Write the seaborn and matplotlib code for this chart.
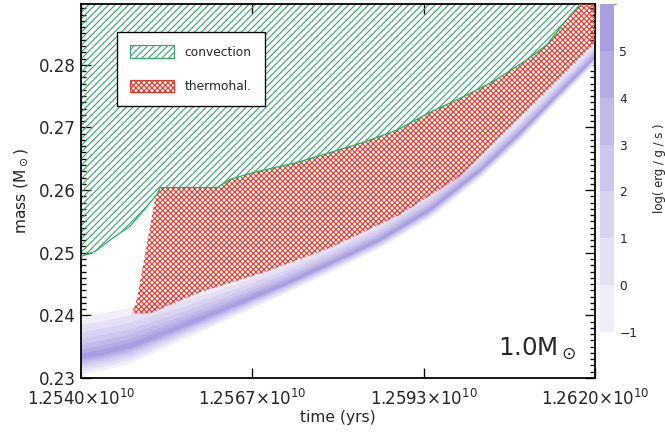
"""Kippenhahn-style diagram: convection / thermohaline zones over the burning shell."""
import numpy as np
import matplotlib
matplotlib.use("Agg")  # headless
import matplotlib.pyplot as plt
import seaborn as sns
from matplotlib.patches import Patch
from matplotlib.colors import ListedColormap, BoundaryNorm
from matplotlib.cm import ScalarMappable
from matplotlib.ticker import MultipleLocator

# time in units of 1e10 yrs, mass in Msun
conv_time = [1.25400, 1.25422, 1.25450, 1.25476, 1.25503, 1.25518, 1.25523,
             1.25612, 1.25632, 1.25668, 1.25736, 1.25788, 1.25839, 1.25892,
             1.25943, 1.25995, 1.26041, 1.26094, 1.26125, 1.26156, 1.26177,
             1.26200]
conv_mass = [0.2494, 0.2502, 0.2524, 0.2542, 0.2574, 0.2593, 0.2604,
             0.2604, 0.2617, 0.2628, 0.2644, 0.2660, 0.2676, 0.2696,
             0.2724, 0.2749, 0.2773, 0.2808, 0.2832, 0.2872, 0.2897,
             0.2930]

# thermohaline zone: lower edge, left edge (its top follows the convection edge)
thermo_bot_time = [1.25479, 1.25507, 1.25585, 1.25686, 1.25788, 1.25897,
                   1.25990, 1.26083, 1.26146, 1.26200]
thermo_bot_mass = [0.2403, 0.2403, 0.2437, 0.2469, 0.2508, 0.2561,
                   0.2622, 0.2716, 0.2779, 0.2835]
thermo_left_time = [1.25515, 1.25487]
thermo_left_mass = [0.2585, 0.2426]
thermo_start = 6  # first convection point shared with the thermohaline top

# energy generation shell (outer faint edges)
band_time = [1.25400, 1.25437, 1.25476, 1.25554, 1.25632, 1.25710, 1.25788,
             1.25865, 1.25943, 1.26021, 1.26083, 1.26146, 1.26200]
band_low = [0.2306, 0.2314, 0.2324, 0.2360, 0.2396, 0.2432, 0.2470,
            0.2508, 0.2556, 0.2620, 0.2680, 0.2747, 0.2803]
band_high = [0.2397, 0.2405, 0.2413, 0.2432, 0.2456, 0.2483, 0.2515,
             0.2552, 0.2600, 0.2660, 0.2719, 0.2784, 0.2840]

levels = [-1, 0, 1, 2, 3, 4, 5, 6]
level_colors = ["#f1eefa", "#e5e0f6", "#d9d3f2", "#cdc6ee",
                "#c1b9ea", "#b5ace5", "#a99fe0"]

x_ticks = [1.2540, 1.2620]
x_tick_labels = [r"$1.2540{\times}10^{10}$", r"$1.2567{\times}10^{10}$",
                 r"$1.2593{\times}10^{10}$", r"$1.2620{\times}10^{10}$"]

GREEN = "#2ea866"
RED = "#e5392b"
CONV_HATCH = "////"
THERMO_HATCH = "xxxxx"

sns.set_style("ticks")
plt.rcParams["font.family"] = ["DejaVu Sans"]
plt.rcParams["mathtext.fontset"] = "dejavusans"
plt.rcParams["hatch.linewidth"] = 1.0

fig = plt.figure(figsize=(665 / 80, 435 / 80), dpi=80)
ax = fig.add_axes([0.1218, 0.131, 0.7729, 0.8598])

# burning shell as nested contour-like layers
t = np.array(band_time)
lo, hi = np.array(band_low), np.array(band_high)
core = lo + 0.3 * (hi - lo)
for col, f in zip(level_colors, [0, 0.2, 0.38, 0.54, 0.68, 0.8, 0.9]):
    ax.fill_between(t, lo + f * (core - lo), hi - f * (hi - core),
                    color=col, lw=0, zorder=1)

# convection zone
ax.fill_between(conv_time, conv_mass, 0.30, facecolor="none",
                edgecolor=GREEN, hatch=CONV_HATCH, lw=0, zorder=2)

# thermohaline zone
poly_t = thermo_bot_time + conv_time[thermo_start:][::-1] + thermo_left_time
poly_m = thermo_bot_mass + conv_mass[thermo_start:][::-1] + thermo_left_mass
ax.fill(poly_t, poly_m, facecolor="none", edgecolor=RED, hatch=THERMO_HATCH,
        lw=0, zorder=3)

sns.lineplot(x=conv_time, y=conv_mass, color=GREEN, lw=1.1, ax=ax, zorder=4)

ax.set_xlim(1.2540, 1.2620)
ax.set_ylim(0.2300, 0.2897)
ax.set_xticks(np.linspace(x_ticks[0], x_ticks[1], 4))
ax.set_xticklabels(x_tick_labels)
ax.yaxis.set_major_locator(MultipleLocator(0.01))
ax.yaxis.set_minor_locator(MultipleLocator(0.001))
ax.set_yticklabels([f"{v:.2f}" for v in ax.get_yticks()])
ax.tick_params(which="both", direction="in", top=True, right=True,
               width=1.2, color="black")
ax.tick_params(which="major", length=9, labelsize=15)
ax.tick_params(axis="x", which="major", pad=10)
ax.tick_params(axis="y", which="major", pad=5)
ax.tick_params(which="minor", length=4.5)
for s in ax.spines.values():
    s.set_linewidth(1.6)
    s.set_color("black")

ax.set_xlabel("time (yrs)", fontsize=14, labelpad=1)
ax.set_ylabel(r"mass (M$_\odot$)", fontsize=14, labelpad=8)

ax.text(0.965, 0.061, r"1.0M$_\odot$", transform=ax.transAxes,
        ha="right", va="baseline", fontsize=22)

handles = [Patch(facecolor="white", edgecolor=GREEN, hatch=CONV_HATCH, lw=1),
           Patch(facecolor="white", edgecolor=RED, hatch=THERMO_HATCH, lw=1)]
leg = ax.legend(handles, ["convection", "thermohal."], loc="upper left",
                bbox_to_anchor=(0.07, 0.925), fontsize=11, frameon=True,
                fancybox=False, framealpha=1, edgecolor="black",
                handlelength=3.6, handleheight=1.2, labelspacing=1.7,
                borderpad=1.1, handletextpad=0.8, borderaxespad=0)
leg.get_frame().set_linewidth(1.2)
leg.set_zorder(10)

# colour bar
cax = fig.add_axes([0.902, 0.2368, 0.021, 0.754])
sm = ScalarMappable(norm=BoundaryNorm(levels, len(level_colors)),
                    cmap=ListedColormap(level_colors))
cbar = fig.colorbar(sm, cax=cax, ticks=levels[:-1])
cbar.outline.set_visible(False)
cax.tick_params(length=0, labelsize=11, pad=5)
cbar.set_label("log( erg / g / s )", fontsize=10.5, labelpad=14)

fig.savefig("out.png", dpi=80)
plt.close(fig)
